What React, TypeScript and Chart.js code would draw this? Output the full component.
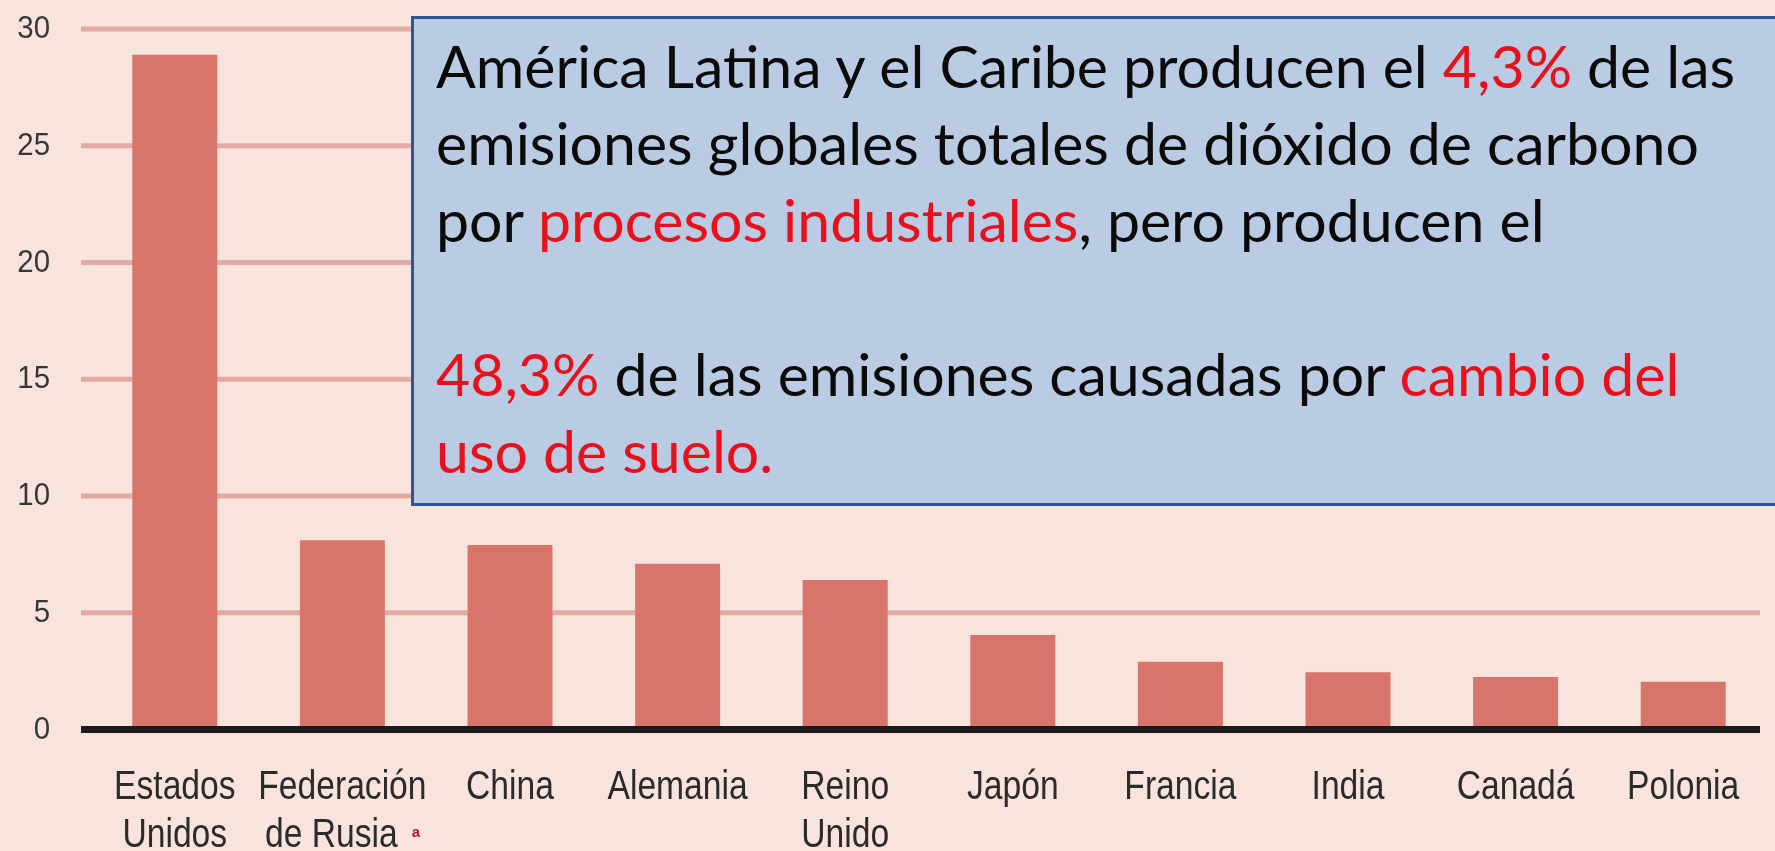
import React, { useEffect, useRef } from "react";
import { Chart, registerables } from "chart.js";

Chart.register(...registerables);

const categories: string[][] = [
  ["Estados", "Unidos"],
  ["Federación", "de Rusia"],
  ["China"],
  ["Alemania"],
  ["Reino", "Unido"],
  ["Japón"],
  ["Francia"],
  ["India"],
  ["Canadá"],
  ["Polonia"],
];
const footnotes: string[] = ["", "a", "", "", "", "", "", "", "", ""];
const values: number[] = [28.9, 8.1, 7.9, 7.1, 6.4, 4.05, 2.9, 2.45, 2.25, 2.05];
const yTicks: number[] = [0, 5, 10, 15, 20, 25, 30];

const BG = "#f9e3dd";
const BAR = "#d8756a";
const GRID = "#e2aaa2";
const SANS = "'Liberation Sans', Arial, sans-serif";
const RED = "#e8101a";

export default function App() {
  const ref = useRef<HTMLCanvasElement | null>(null);

  useEffect(() => {
    document.body.style.margin = "0";
    document.body.style.background = BG;
    const canvas = ref.current!;
    const linesPlugin = {
      id: "customLines",
      beforeDatasetsDraw(chart: any) {
        const { ctx, scales } = chart;
        const y = scales.y;
        ctx.save();
        ctx.strokeStyle = GRID;
        ctx.lineWidth = 5;
        yTicks.forEach((v) => {
          if (v === 0) return;
          const py = y.getPixelForValue(v);
          ctx.beginPath();
          ctx.moveTo(81, py);
          ctx.lineTo(1760, py);
          ctx.stroke();
        });
        ctx.restore();
      },
      afterDatasetsDraw(chart: any) {
        const { ctx, scales } = chart;
        const y = scales.y;
        const x = scales.x;
        ctx.save();
        ctx.strokeStyle = "#1c1a1a";
        ctx.lineWidth = 7;
        const py0 = y.getPixelForValue(0);
        ctx.beginPath();
        ctx.moveTo(81, py0);
        ctx.lineTo(1760, py0);
        ctx.stroke();

        // y tick labels
        ctx.font = `32px ${SANS}`;
        ctx.fillStyle = "#363636";
        ctx.textAlign = "right";
        ctx.textBaseline = "alphabetic";
        yTicks.forEach((v) => {
          const py = y.getPixelForValue(v);
          ctx.save();
          ctx.translate(50, py + 9);
          ctx.scale(0.92, 1);
          ctx.fillText(String(v), 0, 0);
          ctx.restore();
        });

        // x category labels (condensed)
        const s = 0.82;
        ctx.font = `41px ${SANS}`;
        ctx.fillStyle = "#2b2b2b";
        ctx.textAlign = "left";
        categories.forEach((lines, i) => {
          const cx = x.getPixelForTick(i);
          lines.forEach((line, j) => {
            const by = py0 + 69.5 + j * 48;
            const w = ctx.measureText(line).width * s;
            const isLast = j === lines.length - 1;
            const fn = isLast ? footnotes[i] : "";
            const total = fn ? w + 22 : w;
            const start = cx - total / 2;
            ctx.save();
            ctx.translate(start, by);
            ctx.scale(s, 1);
            ctx.fillText(line, 0, 0);
            ctx.restore();
            if (fn) {
              ctx.save();
              ctx.font = `bold 15px ${SANS}`;
              ctx.fillStyle = "#b8182c";
              ctx.fillText(fn, start + w + 14, by - 10);
              ctx.restore();
            }
          });
        });
        ctx.restore();
      },
    };

    const chart = new Chart(canvas, {
      type: "bar",
      data: {
        labels: categories,
        datasets: [
          {
            data: values,
            backgroundColor: BAR,
            borderWidth: 0,
            barPercentage: 0.507,
            categoryPercentage: 1,
          },
        ],
      },
      options: {
        animation: false,
        responsive: true,
        maintainAspectRatio: false,
        layout: { padding: { top: 29, right: 8, left: 0, bottom: 0 } },
        plugins: { legend: { display: false }, tooltip: { enabled: false } },
        scales: {
          x: {
            grid: { display: false },
            border: { display: false },
            ticks: { display: false },
            afterFit(scale: any) {
              scale.height = 121.5;
            },
          },
          y: {
            min: 0,
            max: 30,
            grid: { display: false },
            border: { display: false },
            afterBuildTicks(scale: any) {
              scale.ticks = yTicks.map((v) => ({ value: v }));
            },
            ticks: { display: false },
            afterFit(scale: any) {
              scale.width = 91;
            },
          },
        },
      },
      plugins: [linesPlugin],
    });
    return () => chart.destroy();
  }, []);

  const lineStyle: React.CSSProperties = { whiteSpace: "nowrap", height: 77, lineHeight: "77px" };
  const red: React.CSSProperties = { color: RED };

  return (
    <div style={{ position: "fixed", left: 0, top: 0, width: 1775, height: 851, background: BG, overflow: "hidden" }}>
      <canvas ref={ref} style={{ position: "absolute", left: 0, top: 0, width: 1775, height: 851 }} />
      <div
        style={{
          position: "absolute",
          left: 411,
          top: 16,
          width: 1420,
          height: 484,
          background: "#b9cce4",
          border: "3px solid #2f5597",
        }}
      />
      <div
        style={{
          position: "absolute",
          left: 436,
          top: 27,
          fontFamily: "Lato, 'Open Sans', sans-serif",
          fontSize: 59,
          color: "#0a0a0a",
        }}
      >
        <div style={lineStyle}>
          América Latina y el Caribe producen el <span style={red}>4,3%</span> de las
        </div>
        <div style={lineStyle}>emisiones globales totales de dióxido de carbono</div>
        <div style={lineStyle}>
          por <span style={red}>procesos industriales</span>, pero producen el
        </div>
        <div style={lineStyle}></div>
        <div style={lineStyle}>
          <span style={red}>48,3%</span> de las emisiones causadas por <span style={red}>cambio del</span>
        </div>
        <div style={lineStyle}>
          <span style={red}>uso de suelo.</span>
        </div>
      </div>
    </div>
  );
}
